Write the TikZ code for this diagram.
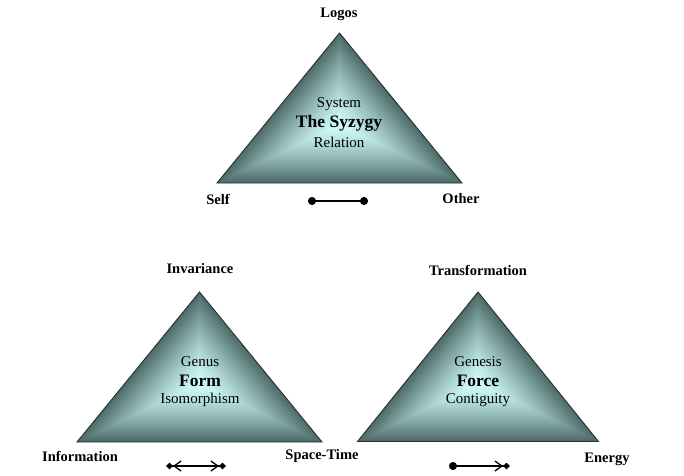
\documentclass[tikz,border=0pt]{standalone}
\usepackage{fontspec}
\setmainfont{Liberation Serif}
\usetikzlibrary{arrows.meta}
\definecolor{pyrdark}{RGB}{76,106,104}
\definecolor{pyrlight}{RGB}{208,252,252}
\definecolor{pyredge}{RGB}{40,48,48}
\newcommand{\pyramid}[4]{% cx, apex y, base y, half width
  \pgfmathsetmacro{\ph}{#3-#2}
  \pgfmathsetmacro{\pr}{\ph/(1+veclen(#4,\ph)/#4)}
  \pgfmathsetmacro{\piy}{#3-\pr}
  \foreach \k in {0,...,71}{
    \pgfmathsetmacro{\s}{1-\k/72}
    \pgfmathtruncatemacro{\p}{round(100*\s^1.35)}
    \fill[pyrdark!\p!pyrlight] ({#1},{\piy-(\ph-\pr)*\s}) -- ({#1-#4*\s},{\piy+\pr*\s}) -- ({#1+#4*\s},{\piy+\pr*\s}) -- cycle;
  }
  \draw[draw=pyredge, line width=0.9pt, line join=miter] (#1,#2) -- (#1-#4,#3) -- (#1+#4,#3) -- cycle;
}
\tikzset{
  vlabel/.style={font=\fontsize{14.5}{17}\selectfont\bfseries, inner sep=0pt},
  inlabel/.style={font=\fontsize{15}{18}\selectfont, inner sep=0pt},
  inbold/.style={font=\fontsize{17.5}{20}\selectfont\bfseries, inner sep=0pt},
  link/.style={line width=1.3pt, black},
}
\begin{document}
\begin{tikzpicture}[x=1pt, y=-1pt]
\useasboundingbox (0,0) rectangle (684,475);
% triangles
\pyramid{339.5}{33}{183}{122.5}
\pyramid{199.5}{292}{442}{122.5}
\pyramid{478}{292}{441.5}{120.5}
% top triangle labels
\node[vlabel] (logos) at (339,14) {Logos};
\node[vlabel] (self) at (218,199) {Self};
\node[vlabel] (other) at (461,199) {Other};
\node[inlabel] (system) at (339,104) {System};
\node[inbold] (syzygy) at (339,123) {The Syzygy};
\node[inlabel] (relation) at (339,142) {Relation};
% bottom-left labels
\node[vlabel] (invariance) at (200,269) {Invariance};
\node[vlabel] (information) at (80,456) {Information};
\node[vlabel] (spacetime) at (322,456) {Space-Time};
\node[inlabel] (genus) at (200,362) {Genus};
\node[inbold] (form) at (200,381) {Form};
\node[inlabel] (isomorphism) at (200,400) {Isomorphism};
% bottom-right labels
\node[vlabel] (transformation) at (478,270) {Transformation};
\node[vlabel] (energy) at (607,459) {Energy};
\node[inlabel] (genesis) at (478,362) {Genesis};
\node[inbold] (force) at (478,381) {Force};
\node[inlabel] (contiguity) at (478,400) {Contiguity};
% connector symbols
\coordinate (r1) at (308,201);
\coordinate (r2) at (368,201);
\draw[link, {Circle[length=8pt]}-{Circle[length=8pt]}] (r1) -- (r2);
\coordinate (f1) at (166,466);
\coordinate (f2) at (226,466);
\draw[link, {Diamond[length=7pt,width=6.5pt] Straight Barb[length=7pt,width=10pt]}-{Straight Barb[length=7pt,width=10pt] Diamond[length=7pt,width=6.5pt]}] (f1) -- (f2);
\coordinate (g1) at (449,466);
\coordinate (g2) at (510,466);
\draw[link, {Circle[length=8pt]}-{Straight Barb[length=7pt,width=10pt] Diamond[length=7pt,width=6.5pt]}] (g1) -- (g2);
\end{tikzpicture}
\end{document}
